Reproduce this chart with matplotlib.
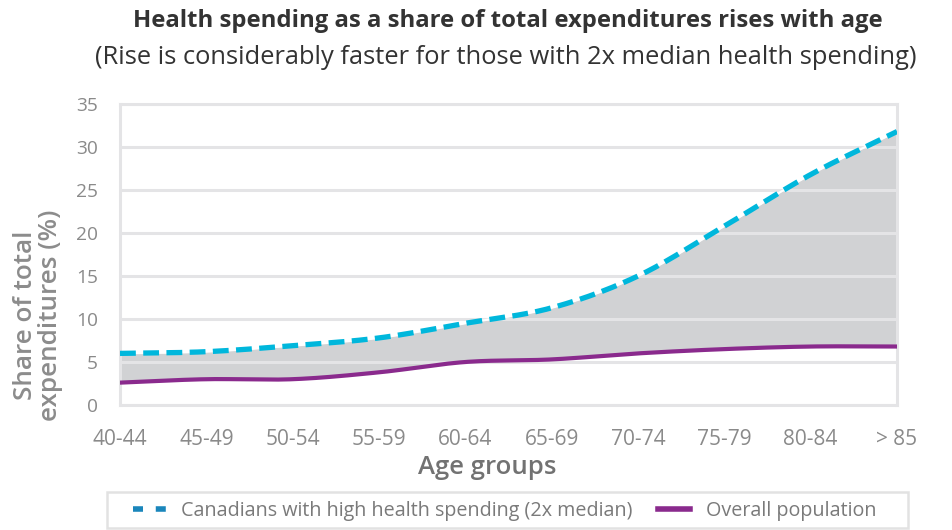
import numpy as np
import matplotlib
matplotlib.use("Agg")
import matplotlib.pyplot as plt
from matplotlib.lines import Line2D
from matplotlib.patches import Rectangle

categories = ["40-44", "45-49", "50-54", "55-59", "60-64", "65-69", "70-74", "75-79", "80-84", "> 85"]
high_spending = [6.0, 6.2, 6.9, 7.8, 9.5, 11.3, 15.0, 20.8, 26.8, 31.8]
overall = [2.6, 3.0, 3.0, 3.8, 5.0, 5.3, 6.0, 6.5, 6.8, 6.8]
yticks = [0, 5, 10, 15, 20, 25, 30, 35]

title = "Health spending as a share of total expenditures rises with age"
subtitle = "(Rise is considerably faster for those with 2x median health spending)"

plt.rcParams['font.family'] = ['Open Sans', 'DejaVu Sans']

def smooth(x, y, n=30):
    x = np.asarray(x, float); y = np.asarray(y, float)
    px = np.concatenate([[2*x[0]-x[1]], x, [2*x[-1]-x[-2]]])
    py = np.concatenate([[2*y[0]-y[1]], y, [2*y[-1]-y[-2]]])
    xs, ys = [], []
    for i in range(1, len(px) - 2):
        t = np.linspace(0, 1, n, endpoint=(i == len(px) - 3))
        p0, p1, p2, p3 = py[i-1], py[i], py[i+1], py[i+2]
        q0, q1, q2, q3 = px[i-1], px[i], px[i+1], px[i+2]
        f = lambda a0, a1, a2, a3: 0.5*((2*a1) + (-a0 + a2)*t + (2*a0 - 5*a1 + 4*a2 - a3)*t**2 + (-a0 + 3*a1 - 3*a2 + a3)*t**3)
        xs.append(f(q0, q1, q2, q3)); ys.append(f(p0, p1, p2, p3))
    return np.concatenate(xs), np.concatenate(ys)

W, H = 953, 530
fig = plt.figure(figsize=(W/100, H/100), dpi=100)
ax = fig.add_axes([120/W, 1 - 405/H, 777/W, 301/H])

x = np.arange(len(categories))
xh, yh = smooth(x, high_spending)
xo, yo = smooth(x, overall)

grid_c = "#e4e4e6"
ax.fill_between(xh, yo, yh, color="#d1d2d4", lw=0, zorder=1)
for v in yticks:
    ax.axhline(v, color=grid_c, lw=2.2, zorder=1.5)
ax.plot(xh, yh, color="white", lw=1.5, zorder=2)
ax.plot(xh, yh, color="#00b7dc", lw=3.8, ls=(0, (3.0, 1.4)), zorder=3, solid_capstyle='butt')
ax.plot(xo, yo, color="#8a2a8d", lw=3.0, zorder=3)

ax.set_xlim(0, len(categories) - 1)
ax.set_ylim(0, 35)
ax.set_yticks(yticks)
ax.set_xticks(x)
ax.set_xticklabels(categories)
for s in ax.spines.values():
    s.set_color(grid_c)
    s.set_linewidth(2.2)
ax.tick_params(axis='both', length=0, colors="#8a8a8a")
ax.tick_params(axis='x', pad=17, labelsize=15)
ax.tick_params(axis='y', pad=16, labelsize=13.8)

fig.text(487/W, 1 - 467/H, "Age groups", ha='center', va='center', fontsize=18.5,
         fontweight='semibold', color="#727272")
fig.text(38/W, 1 - 315/H, "Share of total\nexpenditures (%)", ha='center', va='center', rotation=90,
         fontsize=18.8, fontweight='semibold', color="#8c8c8c", linespacing=1.0)

fig.text(508/W, 1 - 21/H, title, ha='center', va='center', fontsize=17.2, fontweight='bold', color="#333333")
fig.text(506/W, 1 - 57/H, subtitle, ha='center', va='center', fontsize=18.4, color="#333333")

fig.patches.append(Rectangle((107/W, 2/H), 801/W, 36/H, transform=fig.transFigure, fill=False,
                             ec="#e2e2e2", lw=1.8))
handles = [
    Line2D([0], [0], color="#1a86bb", lw=4, ls=(0, (1.8, 2.3))),
    Line2D([0], [0], color="#8a2a8d", lw=4),
]
leg = fig.legend(handles, ["Canadians with high health spending (2x median)", "Overall population"],
                 loc='center', bbox_to_anchor=(504.5/W, 1 - 511/H), ncol=2, frameon=False,
                 fontsize=14.2, handlelength=1.67, columnspacing=1.27, borderpad=0.0, borderaxespad=0.0,
                 handletextpad=0.77, labelcolor="#7a7a7a")

fig.savefig("out.png", dpi=100)
